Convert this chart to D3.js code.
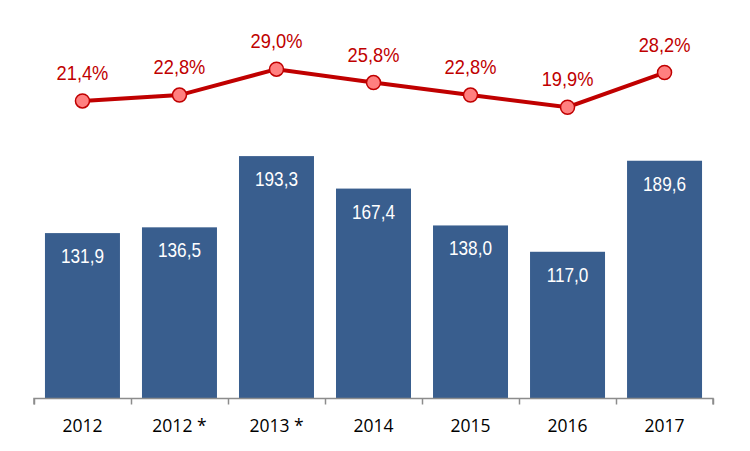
<!DOCTYPE html>
<html><head><meta charset="utf-8">
<script src="https://cdn.jsdelivr.net/npm/d3@7/dist/d3.min.js"></script>
<style>body{margin:0;background:#fff}svg{display:block}</style>
</head><body>
<svg id="c" width="750" height="451"></svg>
<script>
const categories = ["2012", "2012 *", "2013 *", "2014", "2015", "2016", "2017"];
const barValues = [131.9, 136.5, 193.3, 167.4, 138.0, 117.0, 189.6];
const lineValues = [21.4, 22.8, 29.0, 25.8, 22.8, 19.9, 28.2];
const fmt = v => v.toFixed(1).replace(".", ",");

const svg = d3.select("#c");
const x = d3.scaleBand().domain(categories).range([34, 713]).paddingInner(0.227).paddingOuter(0.113);
const y = d3.scaleLinear().domain([0, 200]).range([398.5, 147.7]);
const y2 = d3.scaleLinear().domain([0, 30]).range([190.4, 65.0]);
const narrow = "'Liberation Sans', Arial, sans-serif";

svg.selectAll("rect.bar").data(barValues).enter().append("rect")
  .attr("x", (d, i) => x(categories[i])).attr("width", x.bandwidth())
  .attr("y", d => y(d)).attr("height", d => y(0) - y(d)).attr("fill", "#395E8E");

svg.selectAll("text.bl").data(barValues).enter().append("text")
  .attr("transform", (d, i) => `translate(${x(categories[i]) + x.bandwidth() / 2},${y(d) + 30}) scale(0.86,1)`)
  .attr("text-anchor", "middle").attr("fill", "#fff")
  .style("font-family", narrow).style("font-size", "20px")
  .text(d => fmt(d));

const axis = d3.axisBottom(d3.scalePoint().domain(d3.range(8)).range([34, 713])).tickSize(6).tickFormat("");
const g = svg.append("g").attr("transform", "translate(0,398.5)").call(axis);
g.selectAll("path,line").attr("stroke", "#8c8c8c").attr("stroke-width", 1.5);
g.select(".domain").attr("d", "M34,6V0H713V6");

svg.selectAll("text.cat").data(categories).enter().append("text")
  .attr("x", d => x(d) + x.bandwidth() / 2).attr("y", 432)
  .attr("text-anchor", "middle").attr("fill", "#000")
  .style("font-family", "'Open Sans', Lato, sans-serif").style("font-size", "17.5px")
  .text(d => d);

const cx = i => x(categories[i]) + x.bandwidth() / 2;
const line = d3.line().x((d, i) => cx(i)).y(d => y2(d));
svg.append("path").datum(lineValues).attr("d", line).attr("fill", "none")
  .attr("stroke", "#C00000").attr("stroke-width", 4);
svg.selectAll("circle").data(lineValues).enter().append("circle")
  .attr("cx", (d, i) => cx(i)).attr("cy", d => y2(d)).attr("r", 7)
  .attr("fill", "#FF8080").attr("stroke", "#C00000").attr("stroke-width", 1.5);
svg.selectAll("text.ll").data(lineValues).enter().append("text")
  .attr("transform", (d, i) => `translate(${cx(i)},${y2(d) - 21}) scale(0.87,1)`)
  .attr("text-anchor", "middle").attr("fill", "#C00000")
  .style("font-family", narrow).style("font-size", "21px")
  .text(d => fmt(d) + "%");
</script>
</body></html>
